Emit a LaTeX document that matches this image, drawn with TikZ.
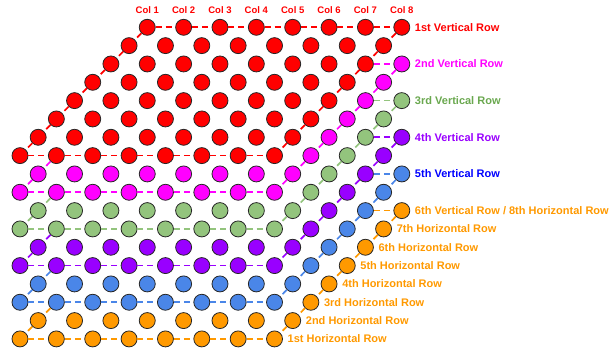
\documentclass[tikz,border=0pt]{standalone}
\usepackage{fontspec}
\setmainfont{Liberation Sans}
\definecolor{lay0}{HTML}{FF0000}
\definecolor{lay1}{HTML}{FF00FF}
\definecolor{lay2}{HTML}{93C47D}
\definecolor{lay3}{HTML}{9900FF}
\definecolor{lay4}{HTML}{4A86E8}
\definecolor{lay5}{HTML}{FF9900}
\definecolor{txt0}{HTML}{FF0000}
\definecolor{txt1}{HTML}{FF00FF}
\definecolor{txt2}{HTML}{6AA84F}
\definecolor{txt3}{HTML}{9900FF}
\definecolor{txt4}{HTML}{0000FF}
\definecolor{txt5}{HTML}{FF9900}
\begin{document}
\begin{tikzpicture}[x=1pt,y=-1pt,
  dot/.style={circle,draw=black!85,line width=0.8pt,minimum size=16pt,inner sep=0pt},
  conn/.style={dash pattern=on 6pt off 4pt,line width=1.7pt},
  collbl/.style={font=\fontsize{9.5}{11}\selectfont\bfseries,text=txt0,inner sep=0pt,anchor=base},
  rowlbl/.style={font=\fontsize{11}{13}\selectfont\bfseries,inner sep=0pt,anchor=base west}]
\useasboundingbox (0,0) rectangle (610,353);
% dots
\foreach \r in {1,...,18} {
  \pgfmathtruncatemacro\mmin{\r<=8 ? 8-\r : mod(\r,2)}
  \pgfmathtruncatemacro\mmax{min(mod(\r,2)==1 ? 21 : 20, 32-\r)}
  \pgfmathtruncatemacro\mnext{\mmin+2}
  \pgfmathtruncatemacro\hl{\r<=8 ? 0 : int((\r-7)/2)}
  \foreach \m in {\mmin,\mnext,...,\mmax} {
    \pgfmathtruncatemacro\dl{\m+\r<=22 ? 0 : (\m+\r-22)/2}
    \pgfmathtruncatemacro\cc{max(\hl,\dl)}
    \node[dot,fill=lay\cc] (d\r-\m) at ({20+18.18*\m},{27.3+18.33*(\r-1)}) {};
  }
}
% connectors
\foreach \k in {0,...,5} {
  \foreach \r in {1,...,7} {
    \pgfmathtruncatemacro\ra{\r+2*\k}
    \pgfmathtruncatemacro\rb{\ra+1}
    \pgfmathtruncatemacro\ma{22+2*\k-\ra}
    \pgfmathtruncatemacro\mb{\ma-1}
    \draw[conn,draw=lay\k] (d\ra-\ma) -- (d\rb-\mb);
  }
  \pgfmathtruncatemacro\rr{8+2*\k}
  \foreach \m in {0,2,...,12} {
    \pgfmathtruncatemacro\mb{\m+2}
    \draw[conn,draw=lay\k] (d\rr-\m) -- (d\rr-\mb);
  }
}
\foreach \m in {7,9,...,19} {
  \pgfmathtruncatemacro\mb{\m+2}
  \draw[conn,draw=lay0] (d1-\m) -- (d1-\mb);
}
\foreach \r in {1,...,7} {
  \pgfmathtruncatemacro\rb{\r+1}
  \pgfmathtruncatemacro\ma{8-\r}
  \pgfmathtruncatemacro\mb{7-\r}
  \draw[conn,draw=lay0] (d\r-\ma) -- (d\rb-\mb);
}
\foreach \k in {1,...,5} {
  \pgfmathtruncatemacro\rt{1+2*\k}
  \pgfmathtruncatemacro\ra{6+2*\k}
  \pgfmathtruncatemacro\rb{7+2*\k}
  \pgfmathtruncatemacro\rc{8+2*\k}
  \draw[conn,draw=lay\k] (d\rt-19) -- (d\rt-21);
  \draw[conn,draw=lay\k] (d\ra-2) -- (d\rb-1);
  \draw[conn,draw=lay\k] (d\rb-1) -- (d\rc-0);
}
% column labels
\foreach \i in {1,...,8} {
  \pgfmathtruncatemacro\m{5+2*\i}
  \node[collbl] (c\i) at ([yshift=13.6pt]d1-\m.center) {Col \i};
}
% vertical row labels
\foreach \k/\t in {0/{1st Vertical Row},1/{2nd Vertical Row},2/{3rd Vertical Row},3/{4th Vertical Row},4/{5th Vertical Row},5/{6th Vertical Row / 8th Horizontal Row}} {
  \pgfmathtruncatemacro\rt{1+2*\k}
  \node[rowlbl,text=txt\k] (v\k) at ([xshift=13pt,yshift=-3.9pt]d\rt-21.center) {\t};
}
% horizontal row labels
\foreach \r/\t in {12/7th,13/6th,14/5th,15/4th,16/3rd,17/2nd,18/1st} {
  \pgfmathtruncatemacro\m{min(mod(\r,2)==1 ? 21 : 20, 32-\r)}
  \node[rowlbl,text=txt5] (h\r) at ([xshift=13pt,yshift=-3.9pt]d\r-\m.center) {\t\ Horizontal Row};
}
\end{tikzpicture}
\end{document}
